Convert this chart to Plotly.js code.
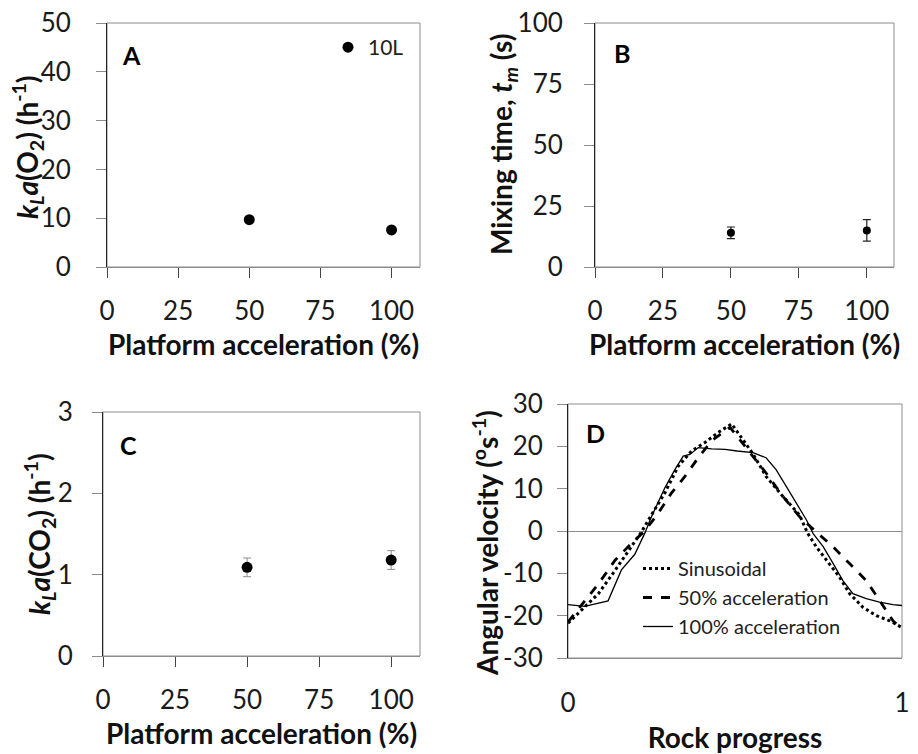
<!DOCTYPE html>
<html>
<head>
<meta charset="utf-8">
<script src="https://cdn.plot.ly/plotly-3.0.1.min.js"></script>
<style>html,body{margin:0;padding:0;background:#fff;}#chart{width:918px;height:754px;}</style>
</head>
<body>
<div id="chart"></div>
<script>
// ---------- data ----------
const accel = [50, 100];                 // Platform acceleration (%)
const kLaO2 = [9.7, 7.6];                // panel A
const mixTime = [14, 15];                // panel B
const mixTimeErr = [2.4, 4.4];
const kLaCO2 = [1.09, 1.18];             // panel C
const kLaCO2Err = [0.115, 0.115];

const accTicks = [0, 25, 50, 75, 100];
const aTicks = [0, 10, 20, 30, 40, 50];
const bTicks = [0, 25, 50, 75, 100];
const cTicks = [0, 1, 2, 3];
const dTicks = [-30, -20, -10, 0, 10, 20, 30];
const dTickText = ["-30", "-20", "-10", "0", "10", "20", "30"];
const rockTicks = [0, 1];

// panel D curves
const sinX = [0, 0.051, 0.091, 0.141, 0.19, 0.22, 0.25, 0.29, 0.33, 0.37, 0.41, 0.45, 0.49, 0.554, 0.593, 0.643, 0.693, 0.718, 0.743, 0.783, 0.813, 0.843, 0.883, 0.923, 0.963, 1.0];
const sinY = [-21.8, -18, -14.8, -9.3, -3.7, -0.2, 3.8, 9, 15.3, 18.9, 20.9, 23.3, 25.3, 18.2, 12.9, 8.2, 3.8, -0.6, -3.7, -7.7, -10.9, -14.8, -18, -20, -21.2, -22.8];
const acc50X = [0, 0.051, 0.091, 0.141, 0.19, 0.23, 0.27, 0.31, 0.35, 0.39, 0.43, 0.485, 0.554, 0.593, 0.643, 0.693, 0.743, 0.793, 0.843, 0.893, 0.933, 0.973, 1.0];
const acc50Y = [-21.5, -16.4, -12.5, -6.9, -2.9, 0, 4.2, 9, 12.9, 17.3, 21.3, 24.5, 17.7, 13.7, 8.2, 3.4, -0.2, -3.7, -7.7, -11.7, -16.4, -21.2, -23.2];
const acc100X = [0, 0.05, 0.12, 0.16, 0.2, 0.23, 0.25, 0.29, 0.32, 0.345, 0.365, 0.39, 0.43, 0.47, 0.506, 0.554, 0.593, 0.623, 0.653, 0.683, 0.714, 0.734, 0.764, 0.794, 0.823, 0.853, 0.893, 0.933, 0.973, 1.0];
const acc100Y = [-17.4, -17.8, -16.5, -9.2, -5.5, -0.5, 3.4, 10.2, 14.5, 17.7, 18.1, 19.7, 19.4, 19.3, 18.9, 18.5, 17.3, 14.5, 10.6, 6.6, 2.6, -0.6, -3.7, -7.7, -11.7, -14.8, -16, -16.8, -17.4, -17.6];

// axis title texts
const xTitleAcc = 'Platform acceleration (%)';
const xTitleRock = 'Rock progress';
const yTitleA = '<i>k<sub>L</sub>a</i>(O<sub>2</sub>) (h<sup>-1</sup>)';
const yTitleB = 'Mixing time, <i>t<sub>m</sub></i> (s)';
const yTitleC = '<i>k<sub>L</sub>a</i>(CO<sub>2</sub>) (h<sup>-1</sup>)';
const yTitleD = 'Angular velocity (<sup>o</sup>s<sup>-1</sup>)';

// ---------- layout helpers ----------
const W = 918, H = 754;
const FONT = "Lato, 'Open Sans', sans-serif";
const px = v => v / W;
const py = v => 1 - v / H;
const TICKC = '#8c8c8c';
const TF = 26;

function xaxisBase(dom, anchor, extra) {
  return Object.assign({
    domain: [px(dom[0]), px(dom[1])], anchor: anchor,
    showline: true, linecolor: TICKC, linewidth: 1,
    ticks: 'outside', ticklen: 10, tickcolor: '#444', tickwidth: 1,
    showgrid: false, zeroline: false, automargin: false,
    tickfont: {family: FONT, size: TF, color: '#1a1a1a'},
    ticklabelstandoff: 11
  }, extra);
}
function yaxisBase(dom, anchor, extra) {
  return Object.assign({
    domain: [py(dom[1]), py(dom[0])], anchor: anchor,
    showline: true, linecolor: '#222', linewidth: 1,
    ticks: 'outside', ticklen: 10, tickcolor: TICKC, tickwidth: 1,
    showgrid: false, zeroline: false, automargin: false,
    tickfont: {family: FONT, size: TF, color: '#1a1a1a'},
    ticklabelstandoff: 16
  }, extra);
}
const titleFont = {family: FONT, size: 28, color: '#111'};

const traces = [
  {x: accel, y: kLaO2, xaxis: 'x', yaxis: 'y', type: 'scatter', mode: 'markers', name: '10L',
   marker: {color: '#000', size: 11}, showlegend: true, legend: 'legend'},
  {x: accel, y: mixTime, xaxis: 'x2', yaxis: 'y2', type: 'scatter', mode: 'markers', showlegend: false,
   marker: {color: '#000', size: 8},
   error_y: {type: 'data', array: mixTimeErr, visible: true, color: '#222', thickness: 1.2, width: 4}},
  {x: accel, y: kLaCO2, xaxis: 'x3', yaxis: 'y3', type: 'scatter', mode: 'markers', showlegend: false,
   marker: {color: '#000', size: 11},
   error_y: {type: 'data', array: kLaCO2Err, visible: true, color: '#8c8c8c', thickness: 1, width: 4}},
  {x: sinX, y: sinY, xaxis: 'x4', yaxis: 'y4', type: 'scatter', mode: 'lines', name: 'Sinusoidal',
   line: {color: '#000', width: 3, dash: 'dot'}, legend: 'legend2'},
  {x: acc50X, y: acc50Y, xaxis: 'x4', yaxis: 'y4', type: 'scatter', mode: 'lines', name: '50% acceleration',
   line: {color: '#000', width: 2.8, dash: 'dash'}, legend: 'legend2'},
  {x: acc100X, y: acc100Y, xaxis: 'x4', yaxis: 'y4', type: 'scatter', mode: 'lines', name: '100% acceleration',
   line: {color: '#000', width: 1.3}, legend: 'legend2'}
];

const A = [107, 420, 23, 267], B = [595, 894, 23, 267], C = [103, 420, 412, 656], D = [568, 902, 404, 658];

function frame(xr, yr) {
  return {type: 'rect', xref: xr + ' domain', yref: yr + ' domain', x0: 0, x1: 1, y0: 0, y1: 1,
          line: {color: TICKC, width: 1}, layer: 'below'};
}
function panelLabel(t, x, y) {
  return {text: '<b>' + t + '</b>', xref: 'paper', yref: 'paper', x: px(x), y: py(y),
          xanchor: 'center', yanchor: 'middle', showarrow: false, font: {family: FONT, size: 25, color: '#000'}};
}
function yTitle(t, x, y) {
  return {text: '<b>' + t + '</b>', xref: 'paper', yref: 'paper', x: px(x), y: py(y), textangle: -90,
          xanchor: 'center', yanchor: 'middle', showarrow: false, font: titleFont};
}

const layout = {
  width: W, height: H, autosize: false,
  margin: {l: 0, r: 0, t: 0, b: 0},
  paper_bgcolor: '#fff', plot_bgcolor: '#fff',
  font: {family: FONT, color: '#111'},
  xaxis: xaxisBase([A[0], A[1]], 'y', {range: [0, 110], tickvals: accTicks,
    title: {text: '<b>' + xTitleAcc + '</b>', font: titleFont, standoff: 10}}),
  yaxis: yaxisBase([A[2], A[3]], 'x', {range: [0, 50], tickvals: aTicks, ticklabelstandoff: 20}),
  xaxis2: xaxisBase([B[0], B[1]], 'y2', {range: [0, 110], tickvals: accTicks,
    title: {text: '<b>' + xTitleAcc + '</b>', font: titleFont, standoff: 10}}),
  yaxis2: yaxisBase([B[2], B[3]], 'x2', {range: [0, 100], tickvals: bTicks}),
  xaxis3: xaxisBase([C[0], C[1]], 'y3', {range: [0, 110], tickvals: accTicks,
    title: {text: '<b>' + xTitleAcc + '</b>', font: titleFont, standoff: 10}}),
  yaxis3: yaxisBase([C[2], C[3]], 'x3', {range: [0, 3], tickvals: cTicks, ticklabelstandoff: 14}),
  xaxis4: xaxisBase([D[0], D[1]], 'y4', {range: [0, 1], tickvals: rockTicks, ticks: '', ticklabelstandoff: 22,
    title: {text: '<b>' + xTitleRock + '</b>', font: titleFont, standoff: 12}}),
  yaxis4: yaxisBase([D[2], D[3]], 'x4', {range: [-30, 30], tickvals: dTicks, ticktext: dTickText, ticklabelstandoff: 9,
    zeroline: true, zerolinecolor: '#8c8c8c', zerolinewidth: 1}),
  shapes: [frame('x', 'y'), frame('x2', 'y2'), frame('x3', 'y3'), frame('x4', 'y4')],
  annotations: [
    panelLabel('A', 131, 55), panelLabel('B', 622, 53), panelLabel('C', 128, 445), panelLabel('D', 595, 433),
    yTitle(yTitleA, 27, 147), yTitle(yTitleB, 503, 145), yTitle(yTitleC, 39, 534), yTitle(yTitleD, 485, 543)
  ],
  legend: {x: px(328), y: py(27), xanchor: 'left', yanchor: 'top', bgcolor: 'rgba(0,0,0,0)',
           font: {family: FONT, size: 21, color: '#222'}, itemwidth: 30, tracegroupgap: 0},
  legend2: {x: px(638), y: py(549), xanchor: 'left', yanchor: 'top', bgcolor: 'rgba(0,0,0,0)',
            font: {family: FONT, size: 20, color: '#222'}, itemwidth: 30, tracegroupgap: 0}
};

Plotly.newPlot('chart', traces, layout, {staticPlot: true, displayModeBar: false});
</script>
</body>
</html>
